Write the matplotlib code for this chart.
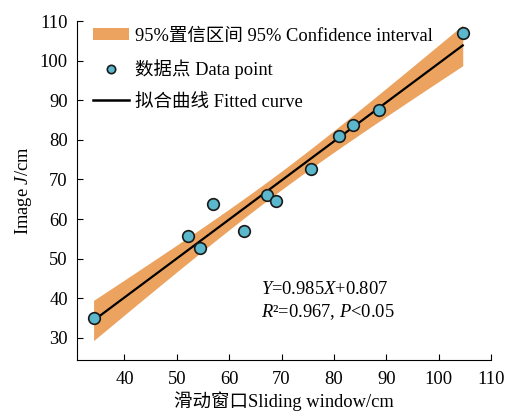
import numpy as np
import matplotlib
matplotlib.use("Agg")
import matplotlib.pyplot as plt
from matplotlib.patches import Patch
from matplotlib.lines import Line2D

plt.rcParams['font.family'] = ['Liberation Serif', 'Noto Sans CJK SC']
plt.rcParams['mathtext.fontset'] = 'custom'
plt.rcParams['mathtext.rm'] = 'Liberation Serif'
plt.rcParams['mathtext.it'] = 'Liberation Serif:italic'

# Data points (Sliding window vs Image J)
sliding = [34.1, 52.1, 54.4, 56.9, 62.8, 67.2, 68.9, 75.6, 80.9, 83.6, 88.6, 104.6]
image_j = [35.0, 55.8, 52.7, 63.8, 57.0, 66.1, 64.6, 72.7, 81.0, 83.8, 87.6, 107.0]

slope = 0.985
intercept = 0.807

x_ticks = [40, 50, 60, 70, 80, 90, 100, 110]
y_ticks = [30, 40, 50, 60, 70, 80, 90, 100, 110]

x = np.array(sliding)
y = np.array(image_j)
n = len(x)

xs = np.linspace(x.min(), x.max(), 200)
yfit = slope * xs + intercept
resid = y - (slope * x + intercept)
s = np.sqrt(np.sum(resid**2) / (n - 2))
sxx = np.sum((x - x.mean())**2)
tval = 2.228
half = tval * s * np.sqrt(1 / n + (xs - x.mean())**2 / sxx)

fig = plt.figure(figsize=(5.12, 4.12), dpi=100)
ax = fig.add_axes([0.150, 0.126, 0.809, 0.823])

orange = '#EBA35F'
blue = '#5BB7CB'
fs = 13.3

ax.fill_between(xs, yfit - half, yfit + half, color=orange, lw=0, zorder=1)
ax.plot(xs, yfit, color='black', lw=1.6, zorder=2)
ax.scatter(x, y, s=70, facecolor=blue, edgecolor='#1a1a1a', linewidth=1.2, zorder=3)

ax.set_xlim(30.9, 110)
ax.set_ylim(24.4, 110)
ax.set_xticks(x_ticks)
ax.set_yticks(y_ticks)
ax.spines['top'].set_visible(False)
ax.spines['right'].set_visible(False)
ax.tick_params(axis='x', direction='in', labelsize=fs, pad=8, length=4.5)
ax.tick_params(axis='y', direction='in', labelsize=fs, pad=6.5, length=4.5)

ax.set_xlabel('滑动窗口Sliding window/cm', fontsize=fs, labelpad=2)
ax.set_ylabel('Image $J$/cm', fontsize=fs, labelpad=4)

ax.text(66.1, 42.1, '$Y$=0.985$X$+0.807', fontsize=fs, va='center', ha='left')
ax.text(66.1, 36.6, '$R$²=0.967, $P$<0.05', fontsize=fs, va='center', ha='left')

handles = [
    Patch(facecolor=orange, edgecolor='none'),
    Line2D([], [], marker='o', ls='none', markersize=6, markerfacecolor=blue,
           markeredgecolor='#1a1a1a', markeredgewidth=1.2),
    Line2D([], [], color='black', lw=1.8),
]
labels = ['95%置信区间 95% Confidence interval', '数据点 Data point', '拟合曲线 Fitted curve']
ax.legend(handles, labels, loc='upper left', frameon=False, fontsize=fs,
          bbox_to_anchor=(0.0, 1.03), handlelength=1.9, labelspacing=0.8,
          handletextpad=0.35)

fig.savefig('out.png', dpi=100)
